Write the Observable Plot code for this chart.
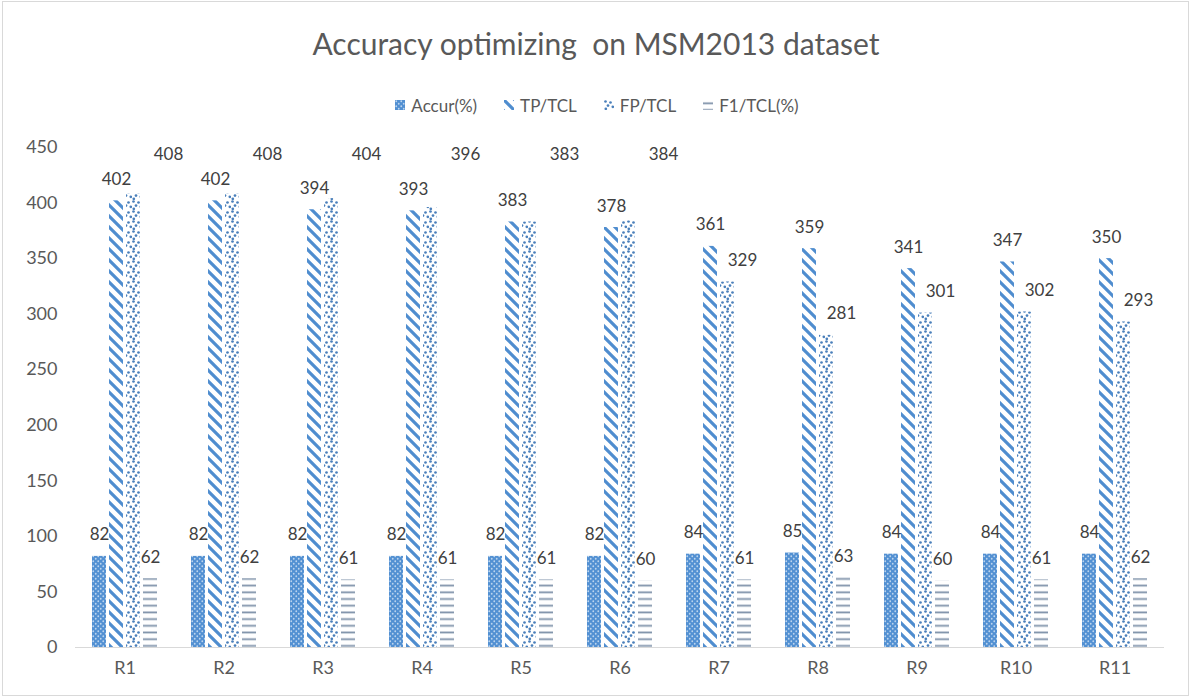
<!DOCTYPE html>
<html><head><meta charset="utf-8">
<script src="https://cdn.jsdelivr.net/npm/d3@7"></script>
<script src="https://cdn.jsdelivr.net/npm/@observablehq/plot@0.6"></script>
<style>
body{margin:0;background:#fff;font-family:Lato,"Open Sans",sans-serif;}
#wrap{position:relative;width:1192px;height:698px;overflow:hidden;background:#fff;}
#frame{position:absolute;left:2px;top:1px;right:3px;bottom:2px;border:1px solid #d9d9d9;pointer-events:none;}
#title{height:72px;box-sizing:border-box;padding-top:25px;text-align:center;font-size:30px;line-height:normal;color:#595959;white-space:pre;}
#legend{height:48px;box-sizing:border-box;padding-top:18px;display:flex;justify-content:center;gap:27px;font-size:17px;line-height:normal;color:#595959;padding-left:2px;}
.item{display:flex;align-items:center;}
.item svg{margin-right:6px;}
</style>
</head><body>
<svg width="0" height="0" style="position:absolute">
<defs>
  <pattern id="pAcc" patternUnits="userSpaceOnUse" width="5" height="5">
    <rect width="5" height="5" fill="#5290d2"/>
    <circle cx="1.25" cy="1.25" r="0.9" fill="#bcd5ef"/>
    <circle cx="3.75" cy="3.75" r="0.9" fill="#bcd5ef"/>
  </pattern>
  <pattern id="pTP" patternUnits="userSpaceOnUse" width="11" height="11">
    <rect width="11" height="11" fill="#fff"/>
    <path d="M-3,-3 L14,14 M-3,8 L3,14 M8,-3 L14,3" stroke="#4f8dcf" stroke-width="3.2"/>
  </pattern>
  <pattern id="pFP" patternUnits="userSpaceOnUse" width="10" height="10">
    <rect width="10" height="10" fill="#fff"/>
    <g fill="#4a7fbb">
      <circle cx="1.5" cy="1.5" r="1.35"/>
      <circle cx="6.5" cy="2.5" r="1.35"/>
      <circle cx="4" cy="5.6" r="1.35"/>
      <circle cx="8.8" cy="6.8" r="1.35"/>
      <circle cx="1.8" cy="8.8" r="1.35"/>
    </g>
  </pattern>
  <pattern id="pF1" patternUnits="userSpaceOnUse" width="4" height="6.7">
    <rect width="4" height="6.7" fill="#fff"/>
    <rect y="2.4" width="4" height="1.8" fill="#8093aa"/>
  </pattern>
</defs>
</svg>
<div id="wrap">
  <div id="title">Accuracy optimizing  on MSM2013 dataset</div>
  <div id="legend"></div>
  <div id="chart"></div>
  <div id="frame"></div>
</div>
<script>
// ---- data ----
const runs = ["R1","R2","R3","R4","R5","R6","R7","R8","R9","R10","R11"];
const seriesNames = ["Accur(%)","TP/TCL","FP/TCL","F1/TCL(%)"];
const accur = [82,82,82,82,82,82,84,85,84,84,84];
const tpTcl = [402,402,394,393,383,378,361,359,341,347,350];
const fpTcl = [408,408,404,396,383,384,329,281,301,302,293];
const f1Tcl = [62,62,61,61,61,60,61,63,60,61,62];
const yTicks = [0,50,100,150,200,250,300,350,400,450];

// ---- build table ----
const valuesBySeries = [accur, tpTcl, fpTcl, f1Tcl];
const fills = ["url(#pAcc)","url(#pTP)","url(#pFP)","url(#pF1)"];
const rows = [];
runs.forEach((r,i) => seriesNames.forEach((s,j) => rows.push({run:r, series:s, value:valuesBySeries[j][i], tp:tpTcl[i]})));
const bySeries = s => rows.filter(d => d.series === s);

// FP labels that reach the TP bar are lifted above the TP labels (as in the original layout)
const liftedLevel = 424;
const fpRows = bySeries("FP/TCL");
const fpLifted = fpRows.filter(d => d.value >= d.tp);
const fpNormal = fpRows.filter(d => d.value < d.tp);

const labelStyle = {fontSize: 17, fill: "#404040", lineAnchor: "bottom", fontFamily: "Lato"};

const marks = [
  Plot.ruleY([0], {stroke: "#d9d9d9", strokeWidth: 1.2}),
  ...seriesNames.map((s,j) => Plot.barY(bySeries(s), {fx: "run", x: "series", y: "value", fill: fills[j]})),
  ...["Accur(%)","TP/TCL","F1/TCL(%)"].map(s => Plot.text(bySeries(s), {fx: "run", x: "series", y: "value", text: d => String(d.value), dy: -16, ...labelStyle})),
  Plot.text(fpNormal, {fx: "run", x: "series", y: "value", text: d => String(d.value), dy: -16, dx: 15, ...labelStyle}),
  Plot.text(fpLifted, {fx: "run", x: "series", y: () => liftedLevel, text: d => String(d.value), dy: -16, dx: 35, ...labelStyle})
];

const chart = Plot.plot({
  width: 1192,
  height: 578,
  marginTop: 27,
  marginBottom: 51,
  marginLeft: 73,
  marginRight: 27,
  style: {fontFamily: "Lato", fontSize: "18px", color: "#595959", background: "transparent"},
  fx: {domain: runs, padding: 0, label: null, tickSize: 0, tickPadding: 14, axis: "bottom"},
  x: {domain: seriesNames, paddingInner: 0.2, paddingOuter: 0.934, axis: null},
  y: {domain: [0, 450], ticks: yTicks, tickSize: 0, tickPadding: 18, label: null},
  marks
});
document.getElementById("chart").appendChild(chart);

// ---- legend ----
const legend = document.getElementById("legend");
seriesNames.forEach((s,j) => {
  const item = document.createElement("div");
  item.className = "item";
  item.innerHTML = `<svg width="10" height="10"><rect width="10" height="10" fill="${fills[j]}"/></svg><span>${s}</span>`;
  legend.appendChild(item);
});
</script>
</body></html>
